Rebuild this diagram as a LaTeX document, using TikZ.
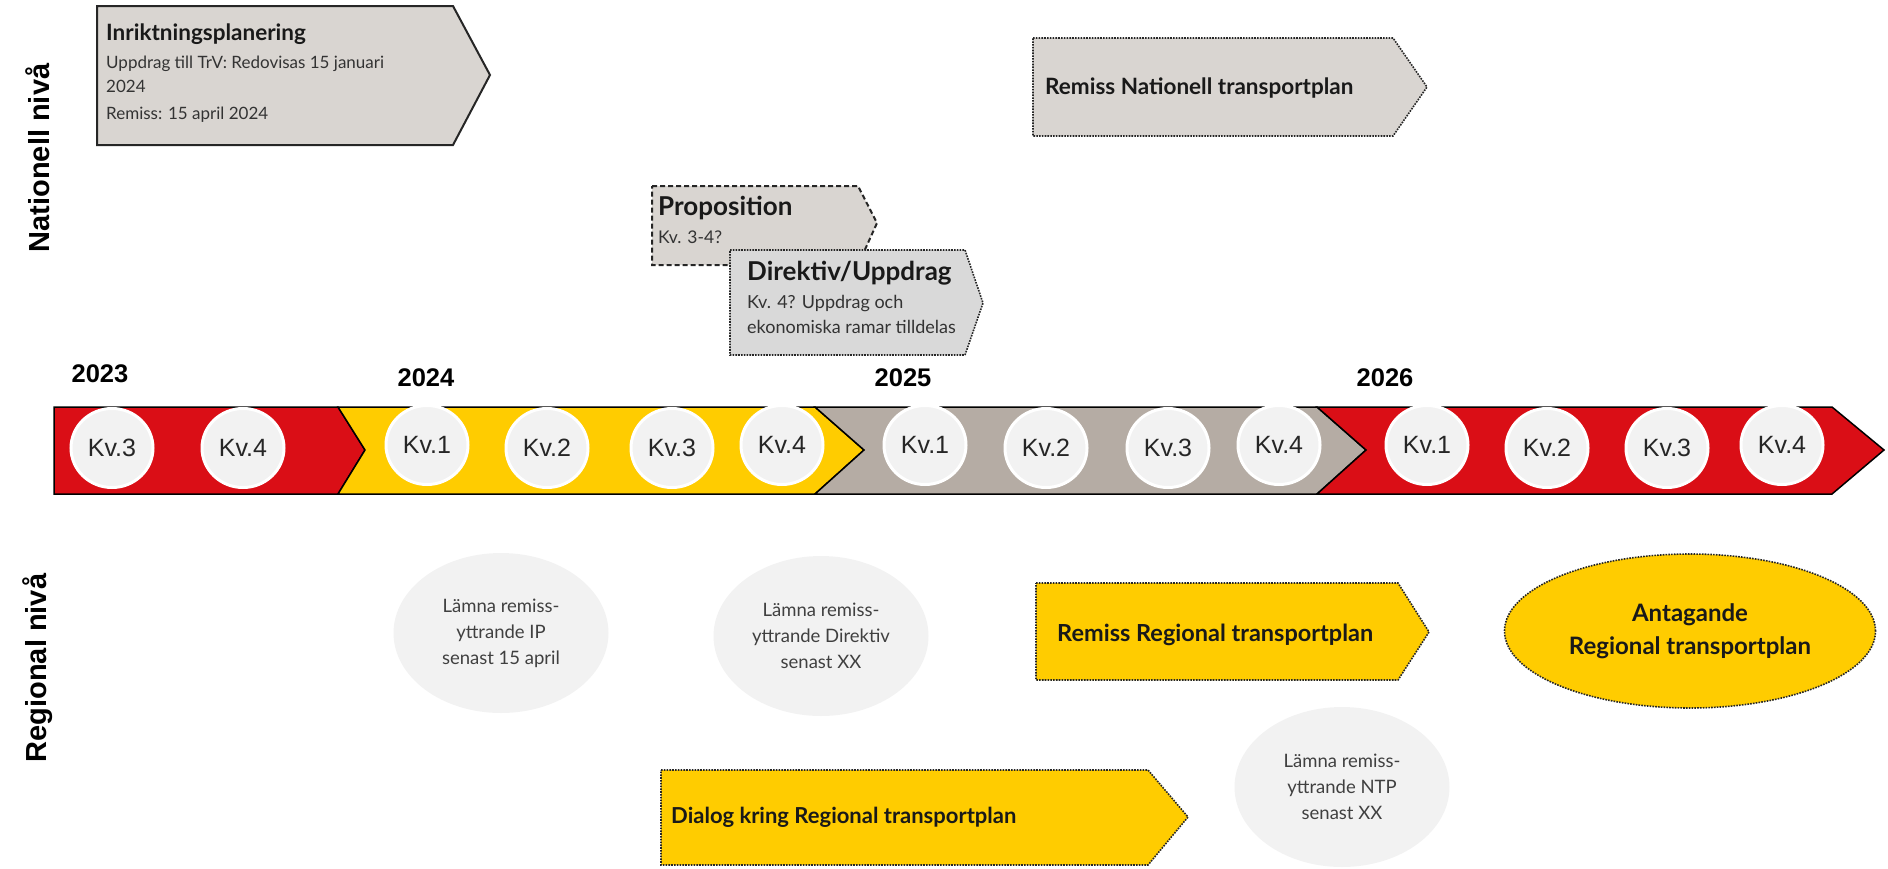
\documentclass[tikz,border=0pt]{standalone}
\usepackage{fontspec}
\setmainfont{Lato}
\newfontfamily\arialf{Liberation Sans}
\usetikzlibrary{shapes.geometric}

\definecolor{bandred}{RGB}{218,14,22}
\definecolor{bandyel}{RGB}{255,204,0}
\definecolor{bandgry}{RGB}{181,172,164}
\definecolor{boxgry}{RGB}{217,213,209}
\definecolor{dirgry}{RGB}{217,217,217}
\definecolor{kvgry}{RGB}{242,242,242}

\begin{document}
\begin{tikzpicture}[x=1pt,y=-1pt,
    kv/.style={ellipse,fill=kvgry,draw=white,line width=3pt,minimum width=82,minimum height=79,inner sep=0,
        font=\arialf\fontsize{25}{25}\selectfont,text=black!85},
    yr/.style={font=\arialf\bfseries\fontsize{25.5}{25}\selectfont},
    ttl/.style={anchor=base west,inner sep=0,text=black!90,font=\bfseries\fontsize{22.5}{25}\selectfont},
    sub/.style={anchor=base west,inner sep=0,text=black!80,font=\fontsize{18}{20}\selectfont},
    bubble/.style={ellipse,fill=kvgry,minimum width=215,minimum height=160,align=center,inner sep=0,
        text=black!75,font=\fontsize{18.5}{26}\selectfont},
    dotline/.style={draw=black!85,line width=1.6pt,dash pattern=on 1.6pt off 1.2pt},
    niva/.style={rotate=90,font=\arialf\bfseries\fontsize{29}{29}\selectfont}]
    \useasboundingbox (0,0) rectangle (1888,868);

    %% side labels
    \node[niva] (natniva) at (38,158) {Nationell nivå};
    \node[niva] (regniva) at (38,668) {Regional nivå};

    %% nationell niva
    \draw[line width=2pt,draw=black!85,fill=boxgry] (97,6) -- (453,6) -- (490,75) -- (453,145) -- (97,145) -- cycle;
    \node[ttl] (inrT) at (106,40) {Inriktningsplanering};
    \node[sub,font=\fontsize{17}{20}\selectfont] (inrA) at (106,68) {Uppdrag till TrV: Redovisas 15 januari};
    \node[sub,font=\fontsize{17}{20}\selectfont] (inrB) at (106,92) {2024};
    \node[sub,font=\fontsize{17}{20}\selectfont] (inrC) at (106,119) {Remiss: 15 april 2024};

    \draw[dotline,fill=boxgry] (1033,38) -- (1393,38) -- (1427,87) -- (1393,136) -- (1033,136) -- cycle;
    \node[ttl] (ntpT) at (1045,94) {Remiss Nationell transportplan};

    \draw[line width=2pt,draw=black!85,dash pattern=on 5pt off 3pt,fill=boxgry] (652,186) -- (858,186) -- (877,223) -- (858,265) -- (652,265) -- cycle;
    \node[ttl,font=\bfseries\fontsize{26}{25}\selectfont] (propT) at (658,215) {Proposition};
    \node[sub,font=\fontsize{17.5}{20}\selectfont] (propA) at (658,243) {Kv. 3-4?};

    \draw[dotline,fill=dirgry] (730,250) -- (965,250) -- (983,303) -- (965,355) -- (730,355) -- cycle;
    \node[ttl,font=\bfseries\fontsize{26}{25}\selectfont] (dirT) at (747,280) {Direktiv/Uppdrag};
    \node[sub] (dirA) at (747,308) {Kv. 4? Uppdrag och};
    \node[sub] (dirB) at (747,333) {ekonomiska ramar tilldelas};

    %% tidslinje
    \draw[line width=1.5pt,fill=bandred] (54,407) -- (338,407) -- (365,450) -- (338,494) -- (54,494) -- cycle;
    \draw[line width=1.5pt,fill=bandyel] (338,407) -- (815,407) -- (864,450) -- (815,494) -- (338,494) -- (365,450) -- cycle;
    \draw[line width=1.5pt,fill=bandgry] (815,407) -- (1317,407) -- (1366,450) -- (1317,494) -- (815,494) -- (864,450) -- cycle;
    \draw[line width=1.5pt,fill=bandred] (1317,407) -- (1832,407) -- (1884,450) -- (1832,494) -- (1317,494) -- (1366,450) -- cycle;

    \node[yr] (y23) at (100,374) {2023};
    \node[yr] (y24) at (426,378) {2024};
    \node[yr] (y25) at (903,378) {2025};
    \node[yr] (y26) at (1385,378) {2026};

    \node[kv] (k233) at (112,448) {Kv.3};
    \node[kv] (k234) at (243,448) {Kv.4};
    \node[kv] (k241) at (427,445) {Kv.1};
    \node[kv] (k242) at (547,448) {Kv.2};
    \node[kv] (k243) at (672,448) {Kv.3};
    \node[kv] (k244) at (782,445) {Kv.4};
    \node[kv] (k251) at (925,445) {Kv.1};
    \node[kv] (k252) at (1046,448) {Kv.2};
    \node[kv] (k253) at (1168,448) {Kv.3};
    \node[kv] (k254) at (1279,445) {Kv.4};
    \node[kv] (k261) at (1427,445) {Kv.1};
    \node[kv] (k262) at (1547,448) {Kv.2};
    \node[kv] (k263) at (1667,448) {Kv.3};
    \node[kv] (k264) at (1782,445) {Kv.4};

    %% regional niva
    \node[bubble] (lamIP) at (501,633) {Lämna remiss-\\yttrande IP\\senast 15 april};
    \node[bubble] (lamDir) at (821,636) {Lämna remiss-\\yttrande Direktiv\\senast XX};
    \node[bubble] (lamNTP) at (1342,787) {Lämna remiss-\\yttrande NTP\\senast XX};

    \draw[dotline,fill=bandyel] (1036,583) -- (1398,583) -- (1429,632) -- (1398,680) -- (1036,680) -- cycle;
    \node[ttl,font=\bfseries\fontsize{23.5}{25}\selectfont] (rtpT) at (1057,641) {Remiss Regional transportplan};

    \node[ellipse,dotline,fill=bandyel,minimum width=371,minimum height=154,align=center,inner sep=0,
        text=black!90,font=\bfseries\fontsize{24}{33}\selectfont] (antag) at (1690,631) {Antagande\\Regional transportplan};

    \draw[dotline,fill=bandyel] (661,770) -- (1148,770) -- (1188,817) -- (1148,865) -- (661,865) -- cycle;
    \node[ttl,font=\bfseries\fontsize{22}{25}\selectfont] (dialT) at (671,823) {Dialog kring Regional transportplan};
\end{tikzpicture}
\end{document}
